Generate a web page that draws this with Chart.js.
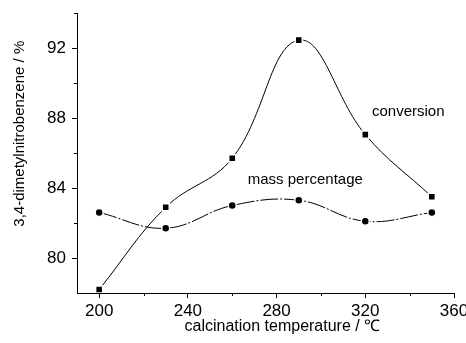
<!DOCTYPE html>
<html>
<head>
<meta charset="utf-8">
<script src="https://cdn.jsdelivr.net/npm/chart.js@4/dist/chart.umd.min.js"></script>
<style>
  html, body { margin: 0; padding: 0; background: #fff; }
  #wrap { width: 466px; height: 343px; }
</style>
</head>
<body>
<div id="wrap"><canvas id="chart"></canvas></div>
<script>
const temperatures = [200, 230, 260, 290, 320, 350];
const conversion = [78.2, 82.9, 85.7, 92.45, 87.05, 83.5];
const massPercentage = [82.6, 81.7, 83.0, 83.3, 82.1, 82.6];

const xTicks = [200, 220, 240, 260, 280, 300, 320, 340, 360];
const xLabels = [200, 240, 280, 320, 360];
const yTicks = [80, 82, 84, 86, 88, 90, 92, 94];
const yLabels = [80, 84, 88, 92];

const FONT = "'Liberation Sans Narrow', 'Arial Narrow', 'Liberation Sans', Arial, sans-serif";

// shorter minor ticks, axis titles and series labels
const extras = {
    id: 'extras',
    afterDraw(chart) {
        const ctx = chart.ctx;
        const xs = chart.scales.x, ys = chart.scales.y;
        ctx.save();
        ctx.strokeStyle = '#000';
        ctx.lineWidth = 1;
        xTicks.filter(v => !xLabels.includes(v)).forEach(v => {
            const px = Math.round(xs.getPixelForValue(v)) + 0.5;
            ctx.beginPath();
            ctx.moveTo(px, ys.bottom);
            ctx.lineTo(px, ys.bottom + 3);
            ctx.stroke();
        });
        yTicks.filter(v => !yLabels.includes(v)).forEach(v => {
            const py = Math.round(ys.getPixelForValue(v)) + 0.5;
            ctx.beginPath();
            ctx.moveTo(xs.left, py);
            ctx.lineTo(xs.left - 3, py);
            ctx.stroke();
        });
        ctx.fillStyle = '#000';
        ctx.textBaseline = 'middle';
        ctx.font = '15px ' + FONT;
        ctx.fillText('conversion', xs.getPixelForValue(323), ys.getPixelForValue(88.36));
        ctx.fillText('mass percentage', xs.getPixelForValue(267), ys.getPixelForValue(84.44));

        ctx.textAlign = 'center';
        ctx.font = '16px ' + FONT;
        ctx.fillText('calcination temperature / ℃', xs.getPixelForValue(282.6), ys.bottom + 34);
        ctx.translate(20, ys.getPixelForValue(87.1));
        ctx.rotate(-Math.PI / 2);
        ctx.font = '15px ' + FONT;
        ctx.fillText('3,4-dimetylnitrobenzene / %', 0, 0);
        ctx.restore();
    }
};

new Chart(document.getElementById('chart'), {
    type: 'line',
    data: {
        datasets: [
            {
                label: 'conversion',
                data: temperatures.map((t, i) => ({ x: t, y: conversion[i] })),
                borderColor: '#000',
                borderWidth: 1,
                tension: 0.4,
                pointStyle: 'rect',
                pointRadius: 5,
                pointBackgroundColor: '#000',
                pointBorderColor: '#fff',
                pointBorderWidth: 1.5
            },
            {
                label: 'mass percentage',
                data: temperatures.map((t, i) => ({ x: t, y: massPercentage[i] })),
                borderColor: '#000',
                borderWidth: 1,
                borderDash: [18, 2, 2, 2],
                tension: 0.4,
                pointStyle: 'circle',
                pointRadius: 4,
                pointBackgroundColor: '#000',
                pointBorderColor: '#fff',
                pointBorderWidth: 1.5
            }
        ]
    },
    options: {
        responsive: true,
        maintainAspectRatio: false,
        animation: false,
        layout: { padding: { top: 13, right: 12, left: 0, bottom: 0 } },
        plugins: {
            legend: { display: false },
            tooltip: { enabled: false }
        },
        scales: {
            x: {
                type: 'linear',
                min: 190,
                max: 360,
                afterBuildTicks: s => { s.ticks = xTicks.map(v => ({ value: v })); },
                afterFit: s => { s.height = 50; s.paddingLeft = 0; s.paddingRight = 0; },
                border: { display: true, color: '#000', width: 1 },
                grid: {
                    drawOnChartArea: false,
                    tickLength: 5,
                    tickColor: c => xLabels.includes(c.tick && c.tick.value) ? '#000' : 'rgba(0,0,0,0)'
                },
                ticks: {
                    autoSkip: false,
                    maxRotation: 0,
                    padding: 3,
                    color: '#000',
                    font: { family: FONT, size: 17 },
                    callback: v => xLabels.includes(v) ? String(v) : ''
                }
            },
            y: {
                type: 'linear',
                min: 78,
                max: 94,
                afterBuildTicks: s => { s.ticks = yTicks.map(v => ({ value: v })); },
                afterFit: s => { s.width = 77; s.paddingTop = 0; s.paddingBottom = 0; },
                border: { display: true, color: '#000', width: 1 },
                grid: {
                    drawOnChartArea: false,
                    tickLength: 5,
                    tickColor: c => yLabels.includes(c.tick && c.tick.value) ? '#000' : 'rgba(0,0,0,0)'
                },
                ticks: {
                    autoSkip: false,
                    padding: 6,
                    color: '#000',
                    font: { family: FONT, size: 17 },
                    callback: v => yLabels.includes(v) ? String(v) : ''
                }
            }
        }
    },
    plugins: [extras]
});
</script>
</body>
</html>
